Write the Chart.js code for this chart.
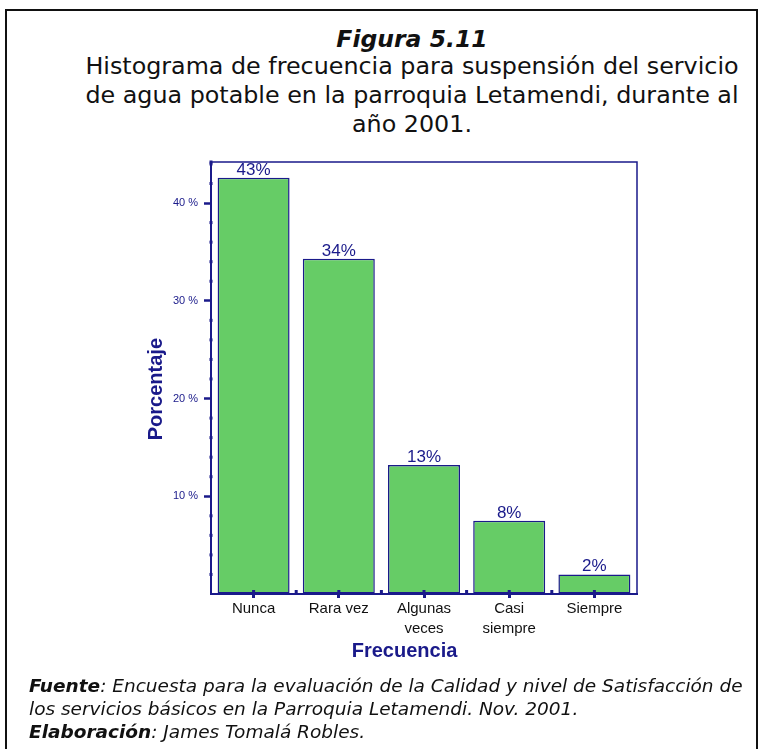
<!DOCTYPE html>
<html>
<head>
<meta charset="utf-8">
<script src="https://cdn.jsdelivr.net/npm/chart.js@4.4.0/dist/chart.umd.min.js"></script>
<style>
  body { margin: 0; background: #fff; width: 764px; height: 749px; overflow: hidden; position: relative; font-family: "DejaVu Sans", sans-serif; color: #111; }
  #frame { position: absolute; left: 5px; top: 9px; width: 749px; height: 760px; border: 2px solid #111; }
  .t { position: absolute; left: 62px; width: 700px; text-align: center; white-space: nowrap; }
  #fig { top: 25px; font-weight: bold; font-style: italic; font-size: 23.5px; line-height: 28px; }
  #sub { top: 52px; font-size: 23.8px; line-height: 29px; }
  #foot { position: absolute; left: 29px; top: 674px; font-size: 18.5px; line-height: 23px; font-style: italic; white-space: nowrap; }
  #chart { position: absolute; left: 0; top: 0; }
</style>
</head>
<body>
<div id="frame"></div>
<div class="t" id="fig">Figura 5.11</div>
<div class="t" id="sub">Histograma de frecuencia para suspensión del servicio<br>de agua potable en la parroquia Letamendi, durante al<br>año 2001.</div>
<canvas id="chart" width="764" height="749"></canvas>
<div id="foot"><b>Fuente</b>: Encuesta para la evaluación de la Calidad y nivel de Satisfacción de<br>los servicios básicos en la Parroquia Letamendi. Nov. 2001.<br><b>Elaboración</b>: James Tomalá Robles.</div>
<script>
// frecuencia de suspensión del servicio
const categorias = [['Nunca'], ['Rara vez'], ['Algunas', 'veces'], ['Casi', 'siempre'], ['Siempre']];
const porcentajes = [42.6, 34.3, 13.2, 7.5, 2.0];

const navy = '#1a1a8a';

// marcas de los ejes y borde del area del grafico
const axisMarks = {
  id: 'axisMarks',
  afterDraw(chart) {
    const c = chart.ctx, a = chart.chartArea;
    const y = chart.scales.y, x = chart.scales.x;
    c.save();
    c.strokeStyle = navy;
    c.lineWidth = 1.5;
    c.beginPath();
    c.moveTo(a.left, a.top);
    c.lineTo(a.right, a.top);
    c.lineTo(a.right, a.bottom);
    c.stroke();
    c.fillStyle = navy;
    for (let v = 2; v <= 44; v += 2) {
      if (v % 10 === 0) continue;
      c.fillRect(a.left - 1.5, y.getPixelForValue(v) - 1.5, 3, 3);
    }
    c.fillRect(a.left - 1.5, a.top - 1.5, 3, 3);
    for (let i = 0; i < categorias.length - 1; i++) {
      const px = (x.getPixelForValue(i) + x.getPixelForValue(i + 1)) / 2;
      c.fillRect(px - 1.5, a.bottom - 4, 3, 3);
    }
    for (let i = 0; i < categorias.length; i++) {
      c.fillRect(x.getPixelForValue(i) - 1.5, a.bottom - 4, 3, 4);
    }
    c.restore();
  }
};

// etiquetas de porcentaje sobre las barras
const barLabels = {
  id: 'barLabels',
  afterDatasetsDraw(chart) {
    const c = chart.ctx;
    const meta = chart.getDatasetMeta(0);
    c.save();
    c.fillStyle = navy;
    c.font = '17px "Liberation Sans", Arial, sans-serif';
    c.textAlign = 'center';
    c.textBaseline = 'alphabetic';
    meta.data.forEach((bar, i) => {
      c.fillText(Math.round(porcentajes[i]) + '%', bar.x, bar.y - 3);
    });
    c.restore();
  }
};

new Chart(document.getElementById('chart'), {
  type: 'bar',
  data: {
    labels: categorias,
    datasets: [{
      data: porcentajes,
      backgroundColor: '#66cc66',
      borderColor: navy,
      borderWidth: 1.5,
      borderSkipped: false,
      barPercentage: 0.845,
      categoryPercentage: 1
    }]
  },
  options: {
    responsive: false,
    animation: false,
    layout: { padding: { left: 130, top: 162, right: 127, bottom: 85 } },
    plugins: { legend: { display: false }, tooltip: { enabled: false } },
    scales: {
      x: {
        afterFit(s) { s.height = 70; },
        border: { color: navy, width: 2 },
        grid: { offset: false, drawOnChartArea: false, tickLength: 4, tickWidth: 3, tickColor: navy },
        ticks: {
          padding: 1,
          color: '#111',
          font: { family: '"Liberation Sans", Arial, sans-serif', size: 15, lineHeight: 1.33 },
          maxRotation: 0,
          autoSkip: false
        },
        title: {
          display: true,
          // espacios al final para desplazar el titulo a la izquierda como en el original
          text: 'Frecuencia\u00a0\u00a0\u00a0\u00a0\u00a0\u00a0\u00a0',
          color: navy,
          font: { family: '"Liberation Sans", Arial, sans-serif', size: 20, weight: 'bold' },
          padding: { top: 0, bottom: 1 }
        }
      },
      y: {
        min: 0,
        max: 44.2,
        afterFit(s) { s.width = 81; },
        border: { color: navy, width: 2 },
        grid: {
          drawOnChartArea: false,
          tickLength: 7,
          tickWidth: 2.5,
          tickColor: ctx => (ctx.tick && ctx.tick.value % 10 === 0 && ctx.tick.value > 0) ? navy : 'rgba(0,0,0,0)'
        },
        ticks: {
          stepSize: 2,
          maxTicksLimit: 40,
          autoSkip: false,
          padding: 6,
          color: navy,
          font: { family: '"Liberation Sans", Arial, sans-serif', size: 11 },
          callback: v => (v % 10 === 0 && v > 0) ? v + ' %' : ''
        },
        title: {
          display: true,
          text: 'Porcentaje\u00a0\u00a0\u00a0\u00a0',
          color: navy,
          font: { family: '"Liberation Sans", Arial, sans-serif', size: 20, weight: 'bold' },
          padding: { top: 14, bottom: 0 }
        }
      }
    }
  },
  plugins: [axisMarks, barLabels]
});
</script>
</body>
</html>
